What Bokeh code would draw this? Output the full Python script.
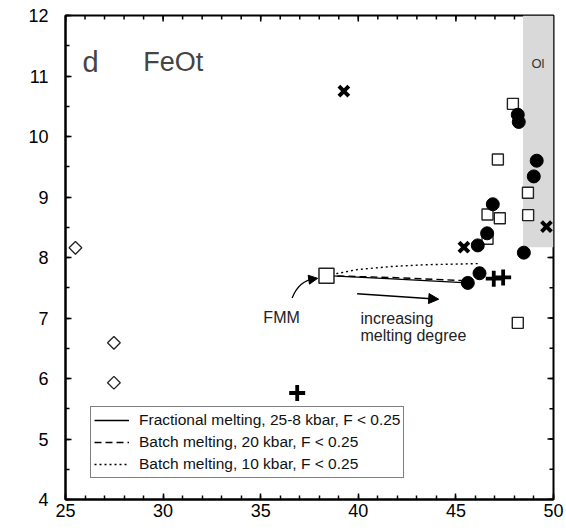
import numpy as np
from bokeh.plotting import figure
from bokeh.models import (Range1d, Legend, LegendItem, Label, Arrow,
                          NormalHead, FixedTicker)
from bokeh.embed import file_html
from bokeh.resources import INLINE

# ---------------- data ----------------
x_ticks = [25, 30, 35, 40, 45, 50]
y_ticks = [4, 5, 6, 7, 8, 9, 10, 11, 12]

circle_x = [48.17, 48.22, 49.14, 48.99, 46.89, 46.60, 46.12, 48.48, 46.21, 45.61]
circle_y = [10.36, 10.24, 9.60, 9.34, 8.88, 8.40, 8.20, 8.08, 7.74, 7.58]

square_x = [47.92, 47.15, 48.69, 46.62, 47.25, 48.70, 46.62, 48.17]
square_y = [10.54, 9.62, 9.07, 8.71, 8.65, 8.70, 8.31, 6.92]

xmark_x = [39.26, 45.41, 49.64]
xmark_y = [10.75, 8.17, 8.51]

plus_x = [36.87, 46.94, 47.42]
plus_y = [5.76, 7.65, 7.67]

diamond_x = [25.51, 27.48, 27.48]
diamond_y = [8.16, 6.59, 5.93]

fmm_x = [38.37]
fmm_y = [7.70]

ol_left, ol_right, ol_bottom, ol_top = [48.44], [50.0], [8.17], [12.0]

frac_x = [38.37, 41.5, 45.61]
frac_y = [7.70, 7.65, 7.58]
batch20_x = [38.37, 41.65, 45.3]
batch20_y = [7.70, 7.67, 7.62]
batch10_x = [38.37, 38.83, 39.94, 41.65, 43.36, 46.26]
batch10_y = [7.70, 7.73, 7.80, 7.85, 7.88, 7.90]

legend_labels = ["Fractional melting, 25-8 kbar, F < 0.25",
                 "Batch melting, 20 kbar, F < 0.25",
                 "Batch melting, 10 kbar, F < 0.25"]

FONT = "Liberation Sans"

# ---------------- figure ----------------
p = figure(frame_width=488, frame_height=484,
           x_range=Range1d(25, 50), y_range=Range1d(4, 12),
           output_backend="svg", toolbar_location=None,
           min_border_left=65, min_border_right=11,
           min_border_top=15, min_border_bottom=29)
p.xgrid.visible = False
p.ygrid.visible = False
p.outline_line_color = "black"
p.outline_line_width = 2
p.background_fill_color = "white"
p.border_fill_color = "white"

x_minor = list(np.arange(25, 51, 1.0))
y_minor = list(np.arange(4, 12.01, 0.5))


def style_axis(ax):
    ax.axis_line_width = 2
    ax.axis_line_color = "black"
    ax.major_tick_in = 6
    ax.major_tick_out = 0
    ax.minor_tick_in = 4
    ax.minor_tick_out = 0
    ax.major_tick_line_width = 1.5
    ax.minor_tick_line_width = 1.5
    ax.major_tick_line_color = "black"
    ax.minor_tick_line_color = "black"
    ax.major_label_text_font = FONT
    ax.major_label_text_font_size = "18px"
    ax.major_label_text_color = "black"


p.xaxis.ticker = FixedTicker(ticks=x_ticks, minor_ticks=x_minor)
p.yaxis.ticker = FixedTicker(ticks=y_ticks, minor_ticks=y_minor)
style_axis(p.xaxis[0])
style_axis(p.yaxis[0])
p.xaxis.major_label_standoff = 4
p.yaxis.major_label_standoff = 17

# inward ticks on the top and right frame edges (clipped to the frame)
p.scatter(x_minor, [12] * len(x_minor), marker="dash", angle=np.pi / 2,
          size=8, line_color="black", line_width=1.5)
p.scatter(x_ticks, [12] * len(x_ticks), marker="dash", angle=np.pi / 2,
          size=12, line_color="black", line_width=1.5)
p.scatter([50] * len(y_minor), y_minor, marker="dash",
          size=8, line_color="black", line_width=1.5)
p.scatter([50] * len(y_ticks), y_ticks, marker="dash",
          size=12, line_color="black", line_width=1.5)

# Ol field
p.quad(left=ol_left, right=ol_right, bottom=ol_bottom, top=ol_top,
       fill_color="#d9d9d9", line_color=None)
p.add_layout(Label(x=49.2, y=11.2, text="Ol", text_font=FONT,
                   text_font_size="13px", text_color="#333333",
                   text_align="center", text_baseline="middle"))

# model lines
r_frac = p.line(frac_x, frac_y, line_color="black", line_width=1.4)
r_b20 = p.line(batch20_x, batch20_y, line_color="black", line_width=1.4,
               line_dash="7 4")
r_b10 = p.line(batch10_x, batch10_y, line_color="black", line_width=1.4,
               line_dash="2 3")

# markers
p.scatter(square_x, square_y, marker="square", size=11, fill_color="white",
          line_color="#222222", line_width=1.4)
p.scatter(diamond_x, diamond_y, marker="square", angle=np.pi / 4, size=9,
          fill_color="white", line_color="#222222", line_width=1.3)
p.scatter(fmm_x, fmm_y, marker="square", size=15, fill_color="white",
          line_color="#222222", line_width=1.5)
p.scatter(circle_x, circle_y, marker="circle", size=13, fill_color="black",
          line_color="black")
p.scatter(xmark_x, xmark_y, marker="x", size=14, line_color="black",
          line_width=4)
p.scatter(plus_x, plus_y, marker="cross", size=16, line_color="black",
          line_width=3.8)

# annotations
p.add_layout(Label(x=25.87, y=11.23, text="d", text_font=FONT,
                   text_font_size="29px", text_baseline="alphabetic"))
p.add_layout(Label(x=28.98, y=11.23, text="FeOt", text_font=FONT,
                   text_font_size="27px", text_baseline="alphabetic"))
p.add_layout(Label(x=36.07, y=7.013, text="FMM", text_font=FONT,
                   text_font_size="16px", text_align="center",
                   text_baseline="alphabetic", text_color="#222222"))
p.add_layout(Label(x=40.11, y=7.0, text="increasing", text_font=FONT,
                   text_font_size="16px", text_baseline="alphabetic",
                   text_color="#222222"))
p.add_layout(Label(x=40.11, y=6.71, text="melting degree", text_font=FONT,
                   text_font_size="16px", text_baseline="alphabetic",
                   text_color="#222222"))

p.add_layout(Arrow(end=NormalHead(size=10, fill_color="black",
                                  line_color="black"),
                   x_start=39.94, y_start=7.40, x_end=44.12, y_end=7.31,
                   line_width=1.5, line_color="black"))

p.bezier(x0=[36.61], y0=[7.33], x1=[37.75], y1=[7.645],
         cx0=[36.85], cy0=[7.52], cx1=[37.25], cy1=[7.63],
         line_color="black", line_width=1.3)
p.add_layout(Arrow(end=NormalHead(size=9, fill_color="black",
                                  line_color="black"),
                   x_start=37.5, y_start=7.635, x_end=37.92, y_end=7.655,
                   line_width=1.3, line_color="black"))

legend = Legend(items=[LegendItem(label=legend_labels[0], renderers=[r_frac]),
                       LegendItem(label=legend_labels[1], renderers=[r_b20]),
                       LegendItem(label=legend_labels[2], renderers=[r_b10])],
                location=(25, 21), orientation="vertical")
legend.label_text_font = FONT
legend.label_text_font_size = "15.5px"
legend.label_text_color = "#111111"
legend.glyph_width = 35
legend.glyph_height = 20
legend.label_height = 20
legend.label_standoff = 10
legend.padding = 3
legend.spacing = 2
legend.margin = 0
legend.border_line_color = "black"
legend.border_line_width = 1.5
legend.background_fill_color = "white"
legend.background_fill_alpha = 1.0
p.add_layout(legend, "center")

open("out.html", "w").write(file_html(p, INLINE))
